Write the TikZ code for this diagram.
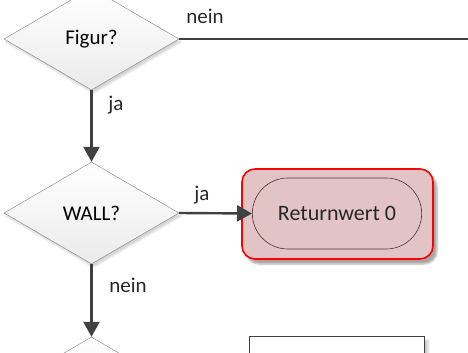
\documentclass[tikz,border=0pt]{standalone}
\usepackage{fontspec}
\setmainfont{Carlito}
\usetikzlibrary{positioning,shapes.geometric,shapes.misc,arrows.meta,shadows.blur}

\definecolor{rosa}{RGB}{226,196,198}
\definecolor{rand}{RGB}{80,50,52}

\begin{document}
\begin{tikzpicture}
        [x=1pt,y=-1pt,
        >={Triangle[length=15pt,width=16pt]},
        font=\fontsize{21}{25}\selectfont,
        frage/.style={diamond,draw=black!50,top color=white,bottom color=black!8,
            minimum width=175pt,minimum height=102pt,inner sep=0pt,aspect=1.7,
            blur shadow={shadow xshift=2pt,shadow yshift=-3pt,shadow opacity=18}},
        pfeil/.style={->,draw=black!75,line width=2.4pt},
        linie/.style={draw=black!75,line width=2.2pt},
        lbl/.style={text=black!85,inner sep=0pt},
        ende/.style={rectangle,rounded corners=13pt,draw=red,line width=1.6pt,fill=rosa,
            minimum width=191pt,minimum height=90pt,
            blur shadow={shadow xshift=4pt,shadow yshift=-5pt,shadow opacity=35}},
        endeIn/.style={rounded rectangle,draw=rand,line width=0.6pt,fill=rosa,
            minimum width=176pt,minimum height=71pt,text=black!85,
            font=\fontsize{22}{26}\selectfont},
        kasten/.style={rectangle,draw=black!75,line width=0.8pt,fill=white,
            minimum width=175pt,minimum height=60pt,
            blur shadow={shadow xshift=4pt,shadow yshift=-4pt,shadow opacity=20}}]
        \useasboundingbox (0,0) rectangle (468,353);

        % Entscheidungen
        \node[frage] (figur) at (91.5,39) {Figur?};
        \node[frage] (wall) at (91.5,213) {WALL?};
        \node[frage] (next) at (91.5,388) {};

        % Rueckgabe
        \node[ende] (ret) at (337.5,214) {};
        \node[endeIn] (retIn) at (337,213.5) {Returnwert 0};
        \node[kasten] (box) at (336.5,366) {};

        % Verbindungen
        \coordinate (rechts) at (470,39);
        \draw[linie] (figur.east) -- (rechts);
        \draw[pfeil] (figur.south) -- (wall.north);
        \draw[pfeil] (wall.east) -- (retIn.west);
        \draw[pfeil] (wall.south) -- (next.north);

        % Beschriftungen
        \node[lbl] (l1) at (205,16) {nein};
        \node[lbl] (l2) at (116,105) {ja};
        \node[lbl] (l3) at (202,195) {ja};
        \node[lbl] (l4) at (128,285) {nein};
\end{tikzpicture}
\end{document}
